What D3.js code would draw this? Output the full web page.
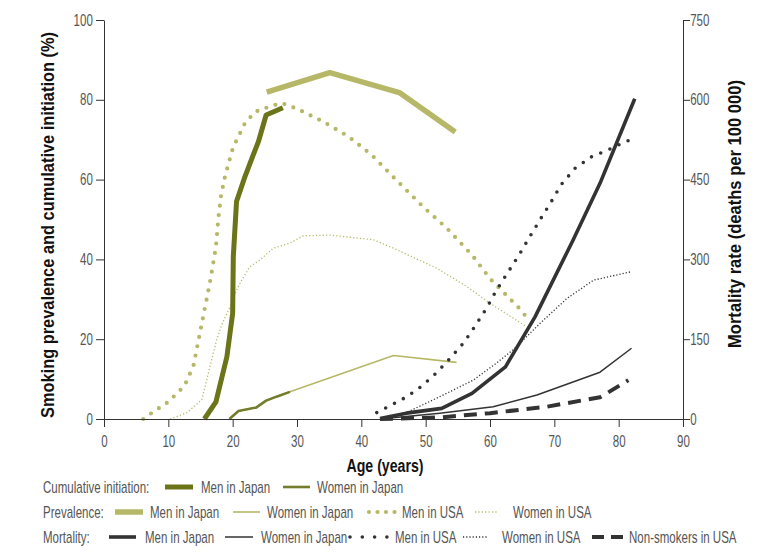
<!DOCTYPE html>
<html lang="en">
<head>
<meta charset="utf-8" />
<title>Smoking initiation, prevalence and mortality</title>
<script src="https://cdn.jsdelivr.net/npm/d3@7/dist/d3.min.js"></script>
<style>
    body { margin: 0; background: #fff; }
    text { font-family: "Liberation Sans", Arial, sans-serif; }
</style>
</head>
<body>
<script>
// values: [age, value]
// cumulative initiation (%)
var initMenJapan = [[15.6,0],[17.4,4.3],[19.1,15.6],[20,26.5],[20.1,40.7],[20.6,54.5],[21.9,60.7],[23.2,66.2],[24,69.5],[25.2,76.2],[27.8,78]];
var initWomenJapan = [[19.5,0],[20.9,2],[23.7,2.9],[25.2,4.6],[26.8,5.6],[28.9,6.8]];
// prevalence (%)
var prevMenJapan = [[25.3,81.9],[35.1,86.8],[45.9,81.8],[54.6,71.9]];
var prevWomenJapan = [[19.6,0.2],[20.9,2],[23.7,2.9],[25.2,4.6],[26.8,5.6],[28.9,6.8],[45,15.9],[54.8,14.2]];
var prevMenUSA = [[6.1,0],[7.5,1.6],[10,4.3],[12.5,8.3],[13.9,13.3],[15.1,23.1],[16,30.4],[16.6,35.4],[17.4,43.2],[17.8,50.7],[18.2,56.1],[18.8,60.7],[19.9,67.2],[20.5,69.5],[21.9,74.1],[23.5,77],[26.1,78.5],[27.6,79.2],[30.2,77.6],[34.1,74.5],[38,70.8],[41.6,66.2],[45,60.6],[49.6,53.2],[53.3,47.8],[57.2,41.1],[60.1,35],[64.4,28],[65.8,25.3]];
var prevWomenUSA = [[10.3,0],[12.9,1.6],[15.2,4.8],[17.5,19.8],[18.3,23.6],[19.6,28.2],[20.1,30.7],[21.4,34.8],[22.7,38.2],[24.2,39.8],[26.3,42.8],[28.9,44.1],[31,45.9],[35.1,46.1],[41.9,44.9],[45,42.8],[51.7,37.8],[56.4,33.2],[60,29],[65.7,23.1]];
// mortality (deaths per 100 000)
var mortMenJapan = [[42.9,1],[47,11],[52.5,20],[57.2,48],[62.4,98],[67,192],[72.9,336],[77.1,443],[82.5,602]];
var mortWomenJapan = [[42.9,0],[52.2,11],[60.5,23],[67.3,45],[77.1,88],[82,133]];
var mortMenUSA = [[42.4,12],[44,22],[47.1,42],[49.4,62],[51.7,87],[53.8,114],[55.9,143],[57.7,175],[59.5,209],[61,242],[62.8,276],[64.5,308],[66.2,343],[67.8,375],[69.5,408],[71.1,441],[73.2,471],[75.8,493],[78.4,506],[81,521],[82.5,528]];
var mortWomenUSA = [[42.9,0],[47,12],[52.2,42],[57.4,73],[61,105],[63.6,130],[67.8,180],[72,227],[76.1,261],[82,277]];
var mortNonSmokersUSA = [[42.9,0],[52.2,3],[60,11],[68.8,23],[77.1,41],[78.1,48],[81.5,73]];

var xTicks = [0, 10, 20, 30, 40, 50, 60, 70, 80, 90];
var yLeftTicks = [0, 20, 40, 60, 80, 100];
var yRightTicks = [0, 150, 300, 450, 600, 750];

var legendRows = ["Cumulative initiation:", "Prevalence:", "Mortality:"];

var w = 771, h = 555;
var plotLeft = 104, plotRight = 683, plotTop = 20, plotBottom = 419;
var squeeze = 0.72; // narrow light face of the original

var x = d3.scaleLinear().domain([0, 90]).range([plotLeft, plotRight]);
var yL = d3.scaleLinear().domain([0, 100]).range([plotBottom, plotTop]);
var yR = d3.scaleLinear().domain([0, 750]).range([plotBottom, plotTop]);

var svg = d3.select("body").append("svg").attr("width", w).attr("height", h);

var olive = "#6b7418", olive2 = "#737d2c", light = "#b6b867", dark = "#333333";

// series with their styles
var series = {
    prevWomenUSA: {data: prevWomenUSA, y: yL, color: light, width: 1.3, dash: "1.2 2.2"},
    prevWomenJapan: {data: prevWomenJapan, y: yL, color: light, width: 1.6},
    prevMenJapan: {data: prevMenJapan, y: yL, color: light, width: 5.5},
    prevMenUSA: {data: prevMenUSA, y: yL, color: light, width: 4.2, dash: "0 9.5", cap: "round"},
    initWomenJapan: {data: initWomenJapan, y: yL, color: olive2, width: 2.6},
    initMenJapan: {data: initMenJapan, y: yL, color: olive, width: 5},
    mortWomenUSA: {data: mortWomenUSA, y: yR, color: dark, width: 1.3, dash: "1.2 2"},
    mortWomenJapan: {data: mortWomenJapan, y: yR, color: dark, width: 1.5},
    mortNonSmokersUSA: {data: mortNonSmokersUSA, y: yR, color: dark, width: 4, dash: "13 8"},
    mortMenUSA: {data: mortMenUSA, y: yR, color: dark, width: 3.6, dash: "0 10", cap: "round"},
    mortMenJapan: {data: mortMenJapan, y: yR, color: dark, width: 3.6}
};

Object.keys(series).forEach(function(k) {
    var s = series[k];
    var line = d3.line()
        .x(function(d) { return x(d[0]); })
        .y(function(d) { return s.y(d[1]); });
    svg.append("path")
        .datum(s.data)
        .attr("d", line)
        .attr("fill", "none")
        .attr("stroke", s.color)
        .attr("stroke-width", s.width)
        .attr("stroke-dasharray", s.dash || null)
        .attr("stroke-linecap", s.cap || "butt")
        .attr("stroke-linejoin", "round");
});

// axes
var xAxis = svg.append("g")
    .attr("transform", "translate(0," + plotBottom + ")")
    .call(d3.axisBottom(x).tickValues(xTicks).tickSize(8).tickPadding(9).tickSizeOuter(0));
var yAxisL = svg.append("g")
    .attr("transform", "translate(" + plotLeft + ",0)")
    .call(d3.axisLeft(yL).tickValues(yLeftTicks).tickSize(8).tickPadding(7.5).tickSizeOuter(0));
var yAxisR = svg.append("g")
    .attr("transform", "translate(" + plotRight + ",0)")
    .call(d3.axisRight(yR).tickValues(yRightTicks).tickSize(7).tickPadding(3).tickSizeOuter(0));

[xAxis, yAxisL, yAxisR].forEach(function(g) {
    g.select(".domain").attr("stroke", dark);
    g.selectAll(".tick line").attr("stroke", dark);
    g.selectAll(".tick text")
        .attr("fill", "#555")
        .attr("transform", "scale(" + squeeze + ",1)")
        .style("font-size", "16px");
});

// axis titles
function title(tx, ty, rot, len, str) {
    svg.append("text")
        .attr("transform", "translate(" + tx + "," + ty + ") rotate(" + rot + ")")
        .attr("text-anchor", "middle")
        .attr("textLength", len)
        .attr("lengthAdjust", "spacingAndGlyphs")
        .style("font-size", "18px").style("font-weight", "bold")
        .attr("fill", "#111")
        .text(str);
}
title(385, 472, 0, 77, "Age (years)");
title(54, 225, -90, 386, "Smoking prevalence and cumulative initiation (%)");
title(741, 214, -90, 268, "Mortality rate (deaths per 100 000)");

// legend: swatch from x0 to x1, label at tx
var legendItems = [
    [{label: "Men in Japan", key: "initMenJapan", x0: 165, x1: 193, tx: 201},
     {label: "Women in Japan", key: "initWomenJapan", x0: 283, x1: 310, tx: 317}],
    [{label: "Men in Japan", key: "prevMenJapan", x0: 115, x1: 143, tx: 150},
     {label: "Women in Japan", key: "prevWomenJapan", x0: 233, x1: 260, tx: 267},
     {label: "Men in USA", key: "prevMenUSA", x0: 369, x1: 395, tx: 402, dash: "0 8.5"},
     {label: "Women in USA", key: "prevWomenUSA", x0: 475, x1: 497, tx: 513}],
    [{label: "Men in Japan", key: "mortMenJapan", x0: 109, x1: 136, tx: 145},
     {label: "Women in Japan", key: "mortWomenJapan", x0: 225, x1: 253, tx: 261},
     {label: "Men in USA", key: "mortMenUSA", x0: 350, x1: 390, tx: 395, dash: "0 12.3"},
     {label: "Women in USA", key: "mortWomenUSA", x0: 463, x1: 487, tx: 502},
     {label: "Non-smokers in USA", key: "mortNonSmokersUSA", x0: 592, x1: 623, tx: 629, dash: "12 7"}]
];
var rowY = [487, 512, 537];

function legendText(g, tx, str) {
    g.append("text")
        .attr("transform", "translate(" + tx + ",0) scale(" + squeeze + ",1)")
        .attr("dy", "0.35em")
        .style("font-size", "16px").attr("fill", "#555")
        .text(str);
}

legendRows.forEach(function(name, i) {
    var g = svg.append("g").attr("transform", "translate(0," + rowY[i] + ")");
    legendText(g, 43, name);
    legendItems[i].forEach(function(it) {
        var s = series[it.key];
        g.append("line")
            .attr("x1", it.x0).attr("x2", it.x1)
            .attr("y1", 0).attr("y2", 0)
            .attr("stroke", s.color)
            .attr("stroke-width", s.width)
            .attr("stroke-dasharray", it.dash || s.dash || null)
            .attr("stroke-linecap", s.cap || "butt");
        legendText(g, it.tx, it.label);
    });
});
</script>
</body>
</html>
